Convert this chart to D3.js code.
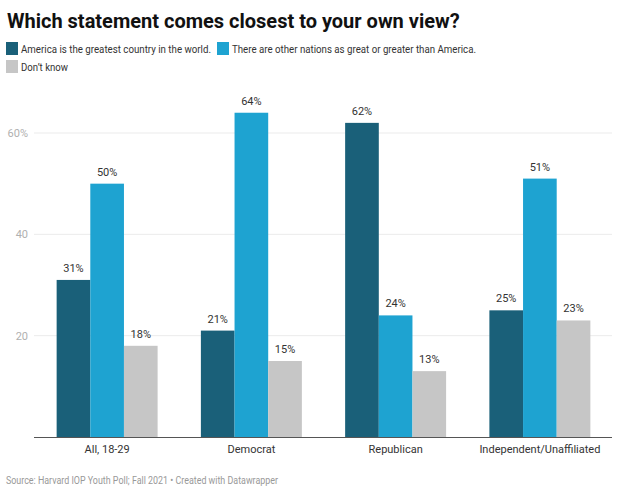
<!DOCTYPE html>
<html><head><meta charset="utf-8">
<script src="https://cdn.jsdelivr.net/npm/d3@7"></script>
<style>
body{margin:0;background:#fff;}
text{font-family:Roboto, "Noto Sans", sans-serif;}
</style></head>
<body>
<svg id="c" width="618" height="494"></svg>
<script>
const categories = ["All, 18-29","Democrat","Republican","Independent/Unaffiliated"];
const seriesNames = ["America is the greatest country in the world.","There are other nations as great or greater than America.","Don’t know"];
const greatest = [31,21,62,25];
const otherNations = [50,64,24,51];
const dontKnow = [18,15,13,23];
const yTicks = [20,40,60];
const colors = ["#1a6079","#1ea3d1","#c6c6c6"];
const title = "Which statement comes closest to your own view?";
const source = "Source: Harvard IOP Youth Poll; Fall 2021 • Created with Datawrapper";

const svg = d3.select("#c");
const series = [greatest, otherNations, dontKnow];

svg.append("text").attr("x",7).attr("y",28).attr("font-size",20).attr("font-weight",700)
  .attr("fill","#111").text(title);

// legend
const leg = [{x:6,y:42,w:190},{x:217,y:42,w:244},{x:6,y:60,w:47}];
seriesNames.forEach((n,i)=>{
  const g = svg.append("g").attr("transform",`translate(${leg[i].x},${leg[i].y})`);
  g.append("rect").attr("width",12).attr("height",13).attr("fill",colors[i]);
  g.append("text").attr("x",i===1?15:15).attr("y",10.5).attr("font-size",11.5).attr("fill","#333")
    .attr("textLength",leg[i].w).attr("lengthAdjust","spacingAndGlyphs").text(n);
});

const x0 = d3.scaleBand().domain(categories).range([35,612]).paddingInner(0.3).paddingOuter(0.15);
const x1 = d3.scaleBand().domain([0,1,2]).range([0,x0.bandwidth()]);
const y = d3.scaleLinear().domain([0,60]).range([437,133]);

// grid
svg.append("g").selectAll("line").data(yTicks).join("line")
  .attr("x1",34).attr("x2",612).attr("y1",d=>y(d)).attr("y2",d=>y(d))
  .attr("stroke","#ebebeb").attr("stroke-width",1);
svg.append("g").selectAll("text").data(yTicks).join("text")
  .attr("x",28).attr("y",d=>y(d)+4).attr("text-anchor","end").attr("font-size",11)
  .attr("fill","#b0b0b0").text(d=>d===60?d+"%":d);

// bars
const groups = svg.append("g").selectAll("g").data(categories).join("g")
  .attr("transform",d=>`translate(${x0(d)},0)`);
groups.each(function(cat,ci){
  const g = d3.select(this);
  series.forEach((s,si)=>{
    g.append("rect").attr("x",x1(si)).attr("width",x1.bandwidth())
      .attr("y",y(s[ci])).attr("height",y(0)-y(s[ci])).attr("fill",colors[si]);
    g.append("text").attr("x",x1(si)+x1.bandwidth()/2).attr("y",y(s[ci])-8)
      .attr("text-anchor","middle").attr("font-size",11).attr("fill","#333").text(s[ci]+"%");
  });
});

// baseline
svg.append("line").attr("x1",34).attr("x2",612).attr("y1",437.5).attr("y2",437.5)
  .attr("stroke","#555").attr("stroke-width",1);

// category axis labels
svg.append("g").selectAll("text").data(categories).join("text")
  .attr("x",d=>x0(d)+x0.bandwidth()/2).attr("y",453).attr("text-anchor","middle")
  .attr("font-size",11).attr("fill","#333").text(d=>d);

svg.append("text").attr("x",6).attr("y",484).attr("font-size",10.5).attr("fill","#999")
  .attr("textLength",272).attr("lengthAdjust","spacingAndGlyphs").text(source);
</script>
</body></html>
